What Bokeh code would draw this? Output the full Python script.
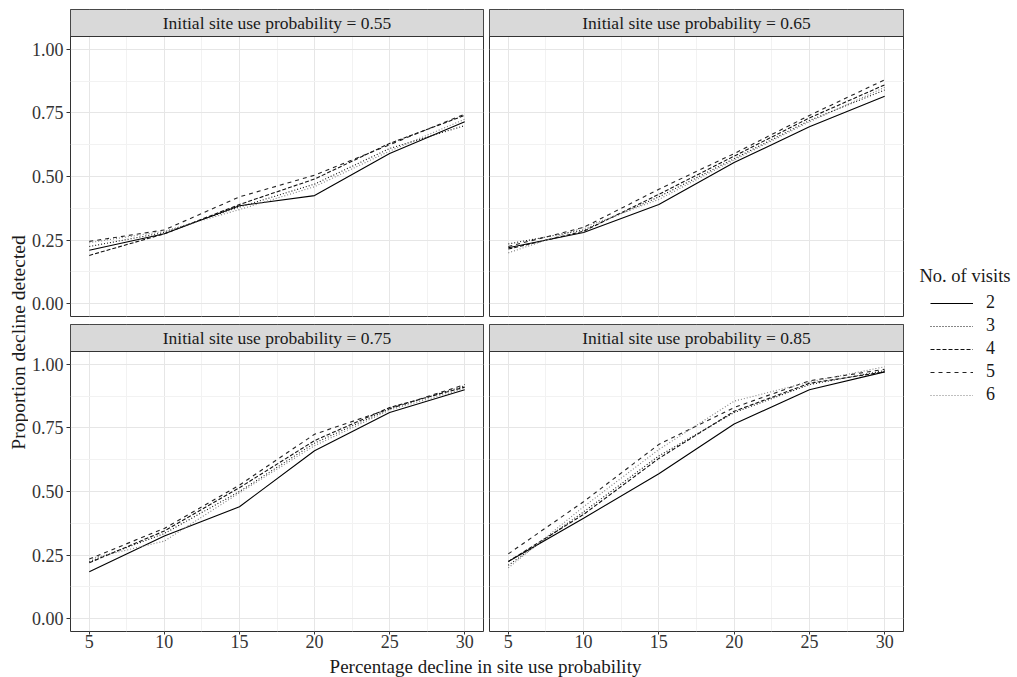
from math import pi
from bokeh.plotting import figure
from bokeh.layouts import row, column
from bokeh.models import (Range1d, FixedTicker, Grid, Label, BoxAnnotation,
                          Legend, LegendItem, PrintfTickFormatter)
from bokeh.embed import file_html
from bokeh.resources import INLINE

# ---------------- data ----------------
declines = [5, 10, 15, 20, 25, 30]
visits = ["2", "3", "4", "5", "6"]
site_use = ["0.55", "0.65", "0.75", "0.85"]

# proportion of declines detected, one list per number of visits (2..6)
p055_v2 = [0.210, 0.275, 0.385, 0.425, 0.590, 0.715]
p055_v3 = [0.225, 0.280, 0.380, 0.470, 0.610, 0.700]
p055_v4 = [0.190, 0.275, 0.390, 0.490, 0.630, 0.740]
p055_v5 = [0.245, 0.290, 0.420, 0.505, 0.625, 0.745]
p055_v6 = [0.240, 0.285, 0.370, 0.460, 0.600, 0.725]

p065_v2 = [0.220, 0.280, 0.390, 0.555, 0.695, 0.815]
p065_v3 = [0.235, 0.290, 0.420, 0.570, 0.720, 0.840]
p065_v4 = [0.215, 0.285, 0.430, 0.580, 0.730, 0.860]
p065_v5 = [0.225, 0.300, 0.450, 0.590, 0.740, 0.880]
p065_v6 = [0.200, 0.300, 0.410, 0.565, 0.715, 0.850]

p075_v2 = [0.185, 0.325, 0.440, 0.660, 0.810, 0.900]
p075_v3 = [0.225, 0.335, 0.500, 0.690, 0.825, 0.915]
p075_v4 = [0.220, 0.345, 0.515, 0.700, 0.830, 0.910]
p075_v5 = [0.235, 0.355, 0.525, 0.725, 0.825, 0.920]
p075_v6 = [0.235, 0.305, 0.495, 0.680, 0.820, 0.905]

p085_v2 = [0.225, 0.395, 0.570, 0.765, 0.900, 0.970]
p085_v3 = [0.210, 0.420, 0.640, 0.810, 0.920, 0.975]
p085_v4 = [0.225, 0.410, 0.630, 0.815, 0.925, 0.970]
p085_v5 = [0.255, 0.460, 0.685, 0.830, 0.935, 0.980]
p085_v6 = [0.200, 0.440, 0.665, 0.855, 0.930, 0.990]

panel_series = [
    [p055_v2, p055_v3, p055_v4, p055_v5, p055_v6],
    [p065_v2, p065_v3, p065_v4, p065_v5, p065_v6],
    [p075_v2, p075_v3, p075_v4, p075_v5, p075_v6],
    [p085_v2, p085_v3, p085_v4, p085_v5, p085_v6],
]

x_ticks = [5, 10, 15, 20, 25, 30]
x_minor = [7.5, 12.5, 17.5, 22.5, 27.5]
y_ticks = [0.0, 0.25, 0.5, 0.75, 1.0]
y_minor = [0.125, 0.375, 0.625, 0.875]

# ---------------- style ----------------
FONT = "Liberation Serif"
TXT = "#1a1a1a"
TICKTXT = "#333333"
BORDER = "#333333"
dashes = ["solid", "1 2", "4 2", "4 4", "1 2"]
colors = ["#000000", "#111111", "#111111", "#222222", "#808080"]

STRIP_PX = 27
DATA_PX = 280
Y0, Y1 = -0.05, 1.05
YTOP = Y1 + STRIP_PX * (Y1 - Y0) / DATA_PX

TOTAL_H = 677
TOP_H = 320
BOT_H = 334
YLAB_W = 28
LEFT_W = 458
RIGHT_W = 419
LEG_W = 108


def make_panel(idx, top, left):
    width = LEFT_W if left else RIGHT_W
    height = TOP_H if top else BOT_H
    p = figure(width=width, height=height,
               x_range=Range1d(3.75, 31.25), y_range=Range1d(Y0, YTOP),
               x_axis_location=None if top else "below",
               y_axis_location="left" if left else None,
               min_border_left=40 if left else 3,
               min_border_right=3 if left else 2,
               min_border_top=9 if top else 4,
               min_border_bottom=4 if top else 23,
               toolbar_location=None, output_backend="svg")
    p.background_fill_color = "white"
    p.border_fill_color = "white"
    p.outline_line_color = BORDER
    p.outline_line_width = 1

    p.center = [r for r in p.center if not isinstance(r, Grid)]
    xt = FixedTicker(ticks=x_ticks, minor_ticks=x_minor)
    yt = FixedTicker(ticks=y_ticks, minor_ticks=y_minor)
    for dim, tk in ((0, xt), (1, yt)):
        g = Grid(dimension=dim, ticker=tk,
                 grid_line_color="#e6e6e6", grid_line_width=1,
                 minor_grid_line_color="#f2f2f2", minor_grid_line_width=1)
        p.add_layout(g)

    for ax in p.xaxis:
        ax.ticker = xt
        ax.axis_line_color = None
        ax.major_tick_line_color = BORDER
        ax.major_tick_out = 3
        ax.major_tick_in = 0
        ax.minor_tick_out = 0
        ax.minor_tick_in = 0
        ax.major_label_standoff = 0
        ax.major_label_text_font = FONT
        ax.major_label_text_font_size = "18px"
        ax.major_label_text_color = TICKTXT
    for ax in p.yaxis:
        ax.ticker = yt
        ax.formatter = PrintfTickFormatter(format="%.2f")
        ax.axis_line_color = None
        ax.major_tick_line_color = BORDER
        ax.major_tick_out = 4
        ax.major_tick_in = 0
        ax.minor_tick_out = 0
        ax.minor_tick_in = 0
        ax.major_label_standoff = 3
        ax.major_label_text_font = FONT
        ax.major_label_text_font_size = "18px"
        ax.major_label_text_color = TICKTXT

    for k, ys in enumerate(panel_series[idx]):
        p.line(declines, ys, line_color=colors[k], line_width=1.1,
               line_dash=dashes[k])

    strip = BoxAnnotation(bottom=Y1, fill_color="#d9d9d9", fill_alpha=1.0,
                          line_color=BORDER, line_width=1, line_alpha=1.0)
    p.add_layout(strip)
    p.add_layout(Label(x=17.5, y=(Y1 + YTOP) / 2,
                       text="Initial site use probability = " + site_use[idx],
                       text_align="center", text_baseline="middle",
                       text_font=FONT, text_font_size="17.5px", text_color=TXT))
    return p


def blank(width, height):
    f = figure(width=width, height=height, x_range=Range1d(0, 1),
               y_range=Range1d(0, 1), x_axis_type=None, y_axis_type=None,
               min_border=0, toolbar_location=None, output_backend="svg")
    f.outline_line_color = None
    f.grid.visible = False
    f.background_fill_color = "white"
    f.border_fill_color = "white"
    return f


tl = make_panel(0, True, True)
tr = make_panel(1, True, False)
bl = make_panel(2, False, True)
br = make_panel(3, False, False)

# y axis title
ylab = blank(YLAB_W, TOTAL_H)
ylab.add_layout(Label(x=18, y=TOTAL_H - 342, x_units="screen", y_units="screen",
                      text="Proportion decline detected", angle=pi / 2,
                      text_align="center", text_baseline="middle",
                      text_font=FONT, text_font_size="19.5px", text_color=TXT))

# x axis title
XLAB_H = TOTAL_H - TOP_H - BOT_H
xlab = blank(LEFT_W + RIGHT_W, XLAB_H)
xlab.add_layout(Label(x=485 - YLAB_W, y=XLAB_H / 2, x_units="screen",
                      y_units="screen",
                      text="Percentage decline in site use probability",
                      text_align="center", text_baseline="middle",
                      text_font=FONT, text_font_size="19px", text_color=TXT))

# legend
leg = blank(LEG_W, TOTAL_H)
items = []
for k, v in enumerate(visits):
    r = leg.line([-5, -4], [-5, -5], line_color=colors[k], line_width=1.1,
                 line_dash=dashes[k])
    items.append(LegendItem(label=v, renderers=[r]))
legend = Legend(items=items, location=(25, TOTAL_H - 405), orientation="vertical",
                glyph_width=43, glyph_height=20, label_height=20,
                label_standoff=13, spacing=2, padding=0, margin=0,
                border_line_color=None, background_fill_alpha=0,
                label_text_font=FONT, label_text_font_size="18px",
                label_text_color=TXT)
leg.add_layout(legend)
leg.add_layout(Label(x=919 - (YLAB_W + LEFT_W + RIGHT_W), y=TOTAL_H - 275,
                     x_units="screen", y_units="screen",
                     text="No. of visits", text_align="left",
                     text_baseline="middle", text_font=FONT,
                     text_font_size="18.5px", text_color=TXT))

grid_col = column(row(tl, tr), row(bl, br), xlab)
page = row(ylab, grid_col, leg)

open("out.html", "w").write(file_html(page, INLINE))
